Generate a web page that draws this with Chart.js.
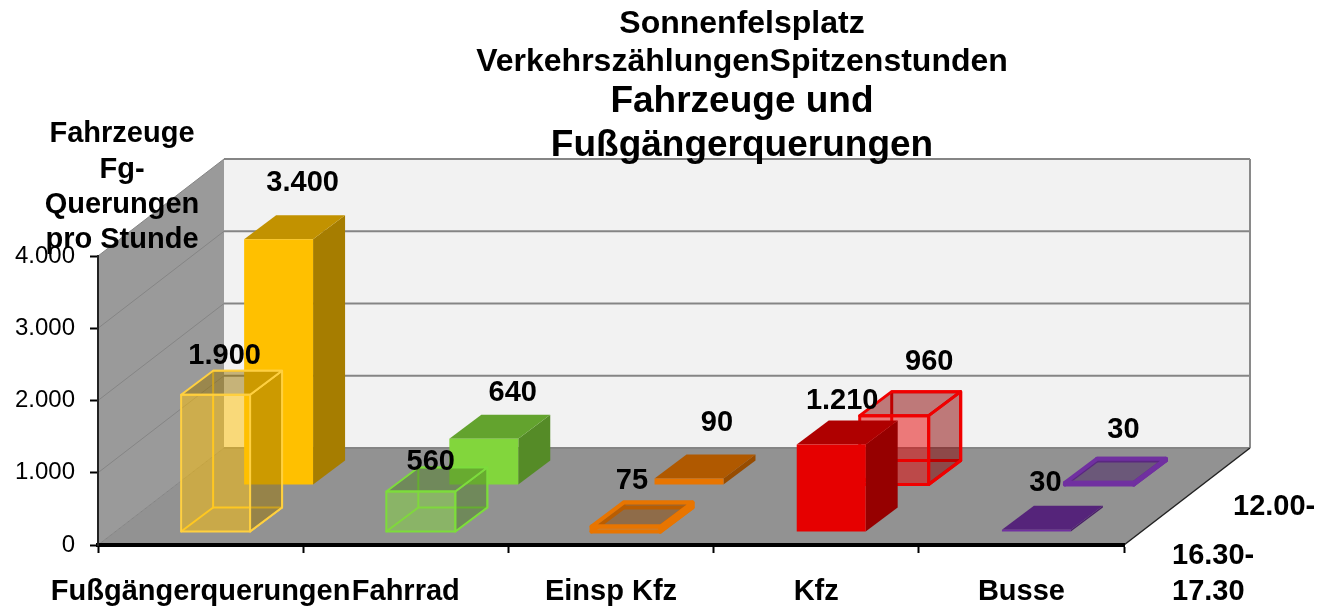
<!DOCTYPE html>
<html lang="de">
<head>
<meta charset="utf-8">
<title>Sonnenfelsplatz</title>
<script src="https://cdn.jsdelivr.net/npm/chart.js@4"></script>
<style>
  html, body { margin: 0; background: #fff; }
  canvas { display: block; }
</style>
</head>
<body>
<canvas id="chart" width="1320" height="608"></canvas>
<script>
// Data
const categories = ['Fußgängerquerungen', 'Fahrrad', 'Einsp Kfz', 'Kfz', 'Busse'];
const valuesEvening = [1900, 560, 75, 1210, 30]; // front row
const valuesNoon = [3400, 640, 90, 960, 30]; // back row
const seriesEvening = ['16.30-', '17.30'];
const seriesNoon = ['12.00-'];
const yTicks = [0, 1000, 2000, 3000, 4000];
const titleSmall = ['Sonnenfelsplatz', 'VerkehrszählungenSpitzenstunden'];
const titleBig = ['Fahrzeuge und', 'Fußgängerquerungen'];
const yTitle = ['Fahrzeuge', 'Fg-', 'Querungen', 'pro Stunde'];

// Styles per category
const baseColors = ['#ffc000', '#82d63c', '#e87500', '#e60000', '#7030a0'];
const edgeColors = ['#ffd040', '#7ddc3c', '#e87500', '#f00000', '#7030a0'];
const edgeWidths = [2, 2, 4, 3, 4];
const glassEvening = [true, true, true, false, false];
const glassNoon = [false, false, false, true, true];

// Label offsets from the top rear edge of each box
const nudgeEvening = [[9, -15], [10, -6], [6, -22], [11, -20], [9, -23]];
const nudgeNoon = [[24, -32], [29, -22], [28, -31], [35, -30], [24, -29]];

// Oblique projection of the floor
const depthX = 126;
const depthY = 97;
const boxX = 32;
const boxY = 24;
const rowShiftY = [13, 60]; // how far back each row stands
const rowShiftX = [15, 78];

const FONT = '"Liberation Sans", Arial, sans-serif';
const fmt = (v) => v.toLocaleString('de-DE');

const shade = (hex, f, a) => {
  const n = parseInt(hex.slice(1), 16);
  const r = Math.round(((n >> 16) & 255) * f);
  const g = Math.round(((n >> 8) & 255) * f);
  const b = Math.round((n & 255) * f);
  return `rgba(${r},${g},${b},${a})`;
};

const poly = (ctx, pts, fill, stroke, lw) => {
  ctx.beginPath();
  pts.forEach((p, i) => (i ? ctx.lineTo(p[0], p[1]) : ctx.moveTo(p[0], p[1])));
  ctx.closePath();
  if (fill) {
    ctx.fillStyle = fill;
    ctx.fill();
  }
  if (stroke) {
    ctx.strokeStyle = stroke;
    ctx.lineWidth = lw;
    ctx.lineJoin = 'round';
    ctx.stroke();
  }
};

const textLines = (ctx, lines, x, ys, font, align) => {
  ctx.font = font;
  ctx.fillStyle = '#000';
  ctx.textAlign = align || 'center';
  ctx.textBaseline = 'middle';
  lines.forEach((t, i) => ctx.fillText(t, x, ys[i]));
};

// Box corners for one bar element
const boxOf = (el, row) => {
  const sy = rowShiftY[row];
  const sx = rowShiftX[row];
  return {
    l: el.x - el.width / 2 + sx,
    r: el.x + el.width / 2 + sx,
    t: el.y - sy,
    b: el.base - sy,
  };
};

const drawSolid = (ctx, q, color) => {
  const { l, r, t, b } = q;
  poly(ctx, [[r, t], [r + boxX, t - boxY], [r + boxX, b - boxY], [r, b]], shade(color, 0.65, 1));
  poly(ctx, [[l, t], [l + boxX, t - boxY], [r + boxX, t - boxY], [r, t]], shade(color, 0.76, 1));
  poly(ctx, [[l, t], [r, t], [r, b], [l, b]], color);
};

const drawGlass = (ctx, q, color, edge, lw) => {
  const { l, r, t, b } = q;
  const L = l + boxX;
  const R = r + boxX;
  const T = t - boxY;
  const B = b - boxY;
  // rear edges first
  poly(ctx, [[L, T], [R, T], [R, B], [L, B]], null, edge, lw);
  poly(ctx, [[l, b], [L, B]], null, edge, lw);
  poly(ctx, [[r, b], [R, B]], null, edge, lw);
  // see-through faces
  poly(ctx, [[r, t], [R, T], [R, B], [r, b]], shade(color, 0.6, 0.5), edge, lw);
  poly(ctx, [[l, t], [L, T], [R, T], [r, t]], shade(color, 0.6, 0.5), edge, lw);
  poly(ctx, [[l, t], [r, t], [r, b], [l, b]], shade(color, 1, 0.5), edge, lw);
};

const walls3d = {
  id: 'walls3d',
  beforeDraw(chart) {
    const { ctx, chartArea: a, scales } = chart;
    const y = scales.y;
    const y0 = y.getPixelForValue(0);
    const yMax = y.getPixelForValue(yTicks[yTicks.length - 1]);
    ctx.save();
    ctx.fillStyle = '#fff';
    ctx.fillRect(0, 0, chart.width, chart.height);

    // back wall
    poly(ctx, [[a.left + depthX, yMax - depthY], [a.right + depthX, yMax - depthY],
      [a.right + depthX, y0 - depthY], [a.left + depthX, y0 - depthY]], '#f2f2f2');
    // left wall
    poly(ctx, [[a.left, y0], [a.left + depthX, y0 - depthY],
      [a.left + depthX, yMax - depthY], [a.left, yMax]], '#9a9a9a');
    // floor
    poly(ctx, [[a.left, y0], [a.right, y0], [a.right + depthX, y0 - depthY],
      [a.left + depthX, y0 - depthY]], '#929292');

    // grid on both walls
    yTicks.forEach((v) => {
      const p = y.getPixelForValue(v);
      ctx.beginPath();
      ctx.moveTo(a.left, p);
      ctx.lineTo(a.left + depthX, p - depthY);
      ctx.strokeStyle = '#858585';
      ctx.lineWidth = 1;
      ctx.stroke();
      ctx.beginPath();
      ctx.moveTo(a.left + depthX, p - depthY);
      ctx.lineTo(a.right + depthX, p - depthY);
      ctx.strokeStyle = '#858585';
      ctx.lineWidth = 2;
      ctx.stroke();
    });
    // right edge of back wall
    ctx.beginPath();
    ctx.moveTo(a.right + depthX, yMax - depthY);
    ctx.lineTo(a.right + depthX, y0 - depthY);
    ctx.strokeStyle = '#8a8a8a';
    ctx.lineWidth = 2;
    ctx.stroke();
    // front right edge of floor
    ctx.beginPath();
    ctx.moveTo(a.right, y0);
    ctx.lineTo(a.right + depthX, y0 - depthY);
    ctx.strokeStyle = '#222';
    ctx.lineWidth = 1.5;
    ctx.stroke();
    ctx.restore();
  },
  // boxes replace the flat bars, back row is drawn first by Chart.js
  beforeDatasetDraw(chart, args) {
    const { ctx } = chart;
    const row = args.index;
    const glass = row === 0 ? glassEvening : glassNoon;
    ctx.save();
    args.meta.data.forEach((el, i) => {
      const q = boxOf(el, row);
      if (glass[i]) {
        drawGlass(ctx, q, baseColors[i], edgeColors[i], edgeWidths[i]);
      } else {
        drawSolid(ctx, q, baseColors[i]);
      }
    });
    ctx.restore();
    return false;
  },
  afterDatasetsDraw(chart) {
    const { ctx } = chart;
    ctx.save();
    const bold29 = `bold 29px ${FONT}`;
    // value labels
    [valuesEvening, valuesNoon].forEach((vals, row) => {
      const nudge = row === 0 ? nudgeEvening : nudgeNoon;
      chart.getDatasetMeta(row).data.forEach((el, i) => {
        const q = boxOf(el, row);
        const cx = (q.l + q.r) / 2 + nudge[i][0];
        const cy = q.t - boxY + nudge[i][1];
        textLines(ctx, [fmt(vals[i])], cx, [cy], bold29);
      });
    });
    // titles
    textLines(ctx, titleSmall, 742, [24, 62], `bold 32px ${FONT}`);
    textLines(ctx, titleBig, 742, [102, 146], `bold 37px ${FONT}`);
    textLines(ctx, yTitle, 122, [134, 170, 205, 240], bold29);
    // depth axis labels
    textLines(ctx, seriesNoon, 1233, [507], bold29, 'left');
    textLines(ctx, seriesEvening, 1172, [556, 592], bold29, 'left');
    ctx.restore();
  },
};

new Chart(document.getElementById('chart'), {
  type: 'bar',
  plugins: [walls3d],
  data: {
    labels: categories,
    datasets: [
      { label: seriesEvening.join(''), data: valuesEvening },
      { label: seriesNoon.join(''), data: valuesNoon },
    ],
  },
  options: {
    responsive: false,
    animation: false,
    layout: { padding: { top: 256, right: 196, left: 0, bottom: 0 } },
    datasets: { bar: { grouped: false, barPercentage: 0.336, categoryPercentage: 1 } },
    plugins: { legend: { display: false }, tooltip: { enabled: false }, title: { display: false } },
    scales: {
      x: {
        afterFit: (s) => { s.height = 63; },
        border: { color: '#000', width: 4 },
        grid: { offset: true, drawOnChartArea: false, tickLength: 8, tickColor: '#000', tickWidth: 2 },
        ticks: {
          autoSkip: false,
          maxRotation: 0,
          minRotation: 0,
          padding: 22,
          color: '#000',
          font: { family: FONT, size: 29, weight: 'bold' },
        },
      },
      y: {
        afterFit: (s) => { s.width = 98; },
        min: 0,
        max: 4000,
        border: { color: '#222', width: 2 },
        grid: { drawOnChartArea: false, tickLength: 8, tickColor: '#000', tickWidth: 2 },
        afterBuildTicks: (s) => { s.ticks = yTicks.map((value) => ({ value })); },
        ticks: {
          padding: 15,
          color: '#000',
          font: { family: FONT, size: 24 },
          callback: (v) => fmt(v),
        },
      },
    },
  },
});
</script>
</body>
</html>
